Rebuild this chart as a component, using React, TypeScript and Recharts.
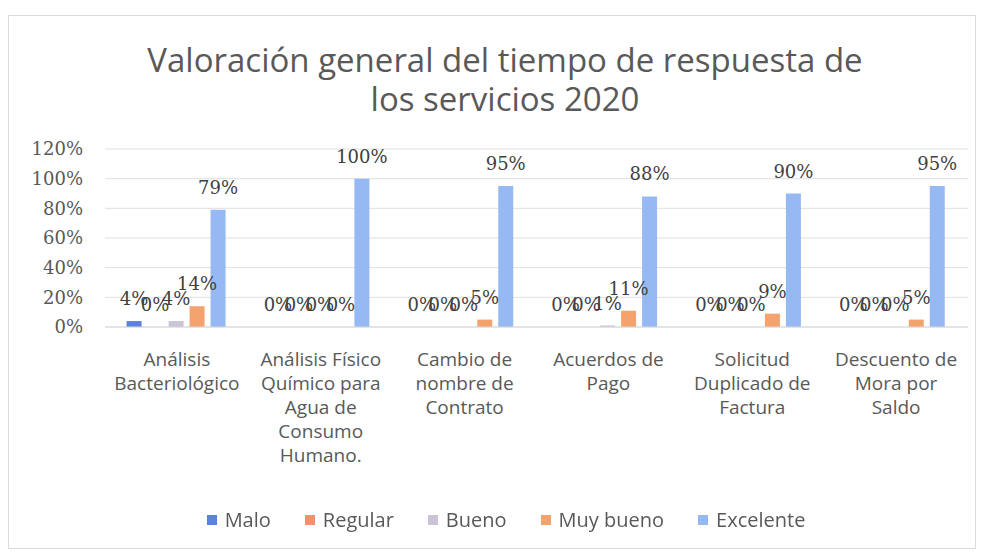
import { Bar, BarChart, CartesianGrid, LabelList, Rectangle, XAxis, YAxis } from "recharts";

const categories = [
  "Análisis\nBacteriológico",
  "Análisis Físico\nQuímico para\nAgua de\nConsumo\nHumano.",
  "Cambio de\nnombre de\nContrato",
  "Acuerdos de\nPago",
  "Solicitud\nDuplicado de\nFactura",
  "Descuento de\nMora por\nSaldo",
];

const malo = [4, 0, 0, 0, 0, 0];
const regular = [0, 0, 0, 0, 0, 0];
const bueno = [4, 0, 0, 1, 0, 0];
const muyBueno = [14, 0, 5, 11, 9, 5];
const excelente = [79, 100, 95, 88, 90, 95];

const yTicks = [0, 20, 40, 60, 80, 100, 120];

const series = [
  { key: "malo", name: "Malo", color: "#5b82dc", values: malo },
  { key: "regular", name: "Regular", color: "#f4906e", values: regular },
  { key: "bueno", name: "Bueno", color: "#cbc3d8", values: bueno },
  { key: "muyBueno", name: "Muy bueno", color: "#f5a36e", values: muyBueno },
  { key: "excelente", name: "Excelente", color: "#97b9f3", values: excelente },
];

const data = categories.map((name, i) => {
  const row: Record<string, string | number> = { name };
  series.forEach((s) => (row[s.key] = s.values[i]));
  return row;
});

const SANS = "'Open Sans', 'Noto Sans', sans-serif";
const SERIF = "'DejaVu Serif', serif";

function CategoryTick({ x, y, payload }: any) {
  const lines = String(payload.value).split("\n");
  return (
    <text x={x} y={y} textAnchor="middle" fontFamily={SANS} fontSize={19} fill="#595959">
      {lines.map((line, i) => (
        <tspan key={i} x={x} y={y + 31 + i * 24}>
          {line}
        </tspan>
      ))}
    </text>
  );
}

// zero bars get a 1px minPointSize so their label still shows; don't paint them
function BarShape(props: any) {
  if (!props.value) return <g />;
  return <Rectangle {...props} />;
}

function ValueLabel(props: any) {
  const { x, y, width, height, value } = props;
  if (value == null) return null;
  const top = Number(y) + (value ? 0 : Number(height));
  return (
    <text
      x={Number(x) + Number(width) / 2}
      y={top - 16}
      textAnchor="middle"
      fontFamily={SERIF}
      fontSize={18}
      fill="#404040"
    >
      {`${value}%`}
    </text>
  );
}

export default function App() {
  return (
    <div
      style={{
        position: "fixed",
        left: 0,
        top: 0,
        width: 984,
        height: 552,
        background: "#fff",
      }}
    >
      <div
        style={{
          position: "absolute",
          left: 8,
          top: 15,
          width: 966,
          height: 532,
          border: "1px solid #dcdcdc",
        }}
      />
      <div
        style={{
          position: "absolute",
          left: 0,
          top: 40,
          width: 1010,
          textAlign: "center",
          fontFamily: SANS,
          fontSize: 33,
          lineHeight: "39px",
          color: "#595959",
        }}
      >
        Valoración general del tiempo de respuesta de
        <br />
        los servicios 2020
      </div>
      <div style={{ position: "absolute", left: 0, top: 0 }}>
        <BarChart
          width={984}
          height={552}
          data={data}
          margin={{ top: 149, right: 16, bottom: 65, left: 0 }}
          barCategoryGap="15%"
          barGap={6}
        >
          <CartesianGrid vertical={false} stroke="#e0e0e0" />
          <XAxis
            dataKey="name"
            interval={0}
            tickLine={false}
            axisLine={{ stroke: "#d9d9d9" }}
            tick={<CategoryTick />}
            height={160}
          />
          <YAxis
            domain={[0, 120]}
            ticks={yTicks}
            width={105}
            tickSize={0}
            tickMargin={22}
            axisLine={false}
            tickLine={false}
            tickFormatter={(v: number) => `${v}%`}
            tick={{ fontFamily: SERIF, fontSize: 18, fill: "#595959" }}
          />
          {series.map((s) => (
            <Bar
              key={s.key}
              dataKey={s.key}
              name={s.name}
              fill={s.color}
              minPointSize={1}
              shape={<BarShape />}
              isAnimationActive={false}
            >
              <LabelList dataKey={s.key} content={<ValueLabel />} />
            </Bar>
          ))}
        </BarChart>
      </div>
      <div
        style={{
          position: "absolute",
          left: 0,
          top: 506,
          width: 1012,
          display: "flex",
          justifyContent: "center",
          gap: 34,
          fontFamily: SANS,
          fontSize: 20,
          color: "#595959",
        }}
      >
        {series.map((s) => (
          <div key={s.key} style={{ display: "flex", alignItems: "center" }}>
            <span
              style={{ width: 10, height: 10, background: s.color, marginRight: 8, display: "inline-block" }}
            />
            {s.name}
          </div>
        ))}
      </div>
    </div>
  );
}
